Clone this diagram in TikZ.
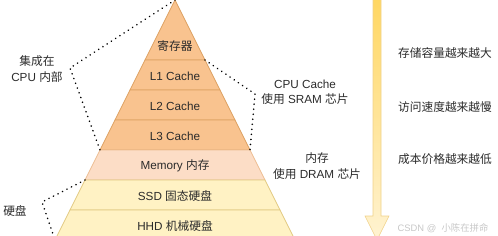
\documentclass[tikz,border=0pt]{standalone}
\usepackage{fontspec}
\setmainfont{Liberation Sans}
\newfontfamily\cjk{Noto Sans CJK SC}
\usetikzlibrary{calc}
\definecolor{cacheFill}{HTML}{F9C38F}
\definecolor{cacheEdge}{HTML}{DDA162}
\definecolor{memFill}{HTML}{FCDDC6}
\definecolor{memEdge}{HTML}{EDBE93}
\definecolor{diskFill}{HTML}{FFF2C4}
\definecolor{diskEdge}{HTML}{E2CA82}
\definecolor{txt}{HTML}{2B2B2B}
\definecolor{arrowTop}{HTML}{FFD660}
\definecolor{arrowBot}{HTML}{FFF3D2}
\definecolor{arrowEdge}{HTML}{F0D28A}

\begin{document}
\begin{tikzpicture}[x=0.3mm,y=-0.3mm,
  every node/.style={font=\fontsize{10}{13}\selectfont,text=txt,align=center,inner sep=0pt},
  layer/.style={line width=0.6pt},
  dotline/.style={line width=1.5pt,line cap=round,dash pattern=on 0.01pt off 4.3pt}]
\useasboundingbox (0,0) rectangle (498,236);
\clip (0,0) rectangle (498,236);
% pyramid layers: top/bottom/fill/edge
\foreach \t/\b/\f/\e in {0/60/cacheFill/cacheEdge,60/90/cacheFill/cacheEdge,90/120/cacheFill/cacheEdge,
  120/150/cacheFill/cacheEdge,150/180/memFill/memEdge,180/210/diskFill/diskEdge,210/240/diskFill/diskEdge}{
  \filldraw[layer,fill=\f,draw=\e] ({175-0.5*\t},\t) -- ({175+0.5*\t},\t) -- ({175+0.5*\b},\b) -- ({175-0.5*\b},\b) -- cycle;
}
% layer labels
\node (reg) at (175,46) {\cjk 寄存器};
\node (l1) at (175,76) {L1 Cache};
\node (l2) at (175,106) {L2 Cache};
\node (l3) at (175,136) {L3 Cache};
\node (mem) at (175,166) {Memory {\cjk 内存}};
\node (ssd) at (175,196) {SSD {\cjk 固态硬盘}};
\node (hhd) at (175,226) {HHD {\cjk 机械硬盘}};
% corners used by the brackets
\coordinate (apex) at (175,0);
\coordinate (l3bl) at (100,150);
\coordinate (l1tr) at (205,60);
\coordinate (l3br) at (250,150);
\coordinate (membl) at (85,180);
\coordinate (hhdbl) at (55,240);
\coordinate (cpuv) at (70,68);
\coordinate (cachev) at (255,94);
\coordinate (diskv) at (42,202);
% brackets
\draw[dotline] (apex) -- (cpuv) -- (l3bl);
\draw[dotline] (l1tr) -- (cachev) -- (l3br);
\draw[dotline] (membl) -- (diskv) -- (hhdbl);
% side labels
\node (cpuin) at (37,69) {{\cjk 集成在}\\CPU {\cjk 内部}};
\node (cache) at (305,92) {CPU Cache\\{\cjk 使用} SRAM {\cjk 芯片}};
\node (dram) at (317,166) {{\cjk 内存}\\{\cjk 使用} DRAM {\cjk 芯片}};
\node (disk) at (15,211) {\cjk 硬盘};
% trend arrow
\shade[top color=arrowTop,bottom color=arrowBot,draw=arrowEdge,line width=0.5pt]
  (373,-5) -- (381,-5) -- (381,216) -- (389,216) -- (377,240) -- (365,216) -- (373,216) -- cycle;
\node (cap) at (445,53) {\cjk 存储容量越来越大};
\node (speed) at (445,107) {\cjk 访问速度越来越慢};
\node (cost) at (445,159) {\cjk 成本价格越来越低};
\node[text=black!22,font=\fontsize{8}{9}\selectfont] (mark) at (443,228) {CSDN @\ \ {\cjk 小陈在拼命}};
\end{tikzpicture}
\end{document}
